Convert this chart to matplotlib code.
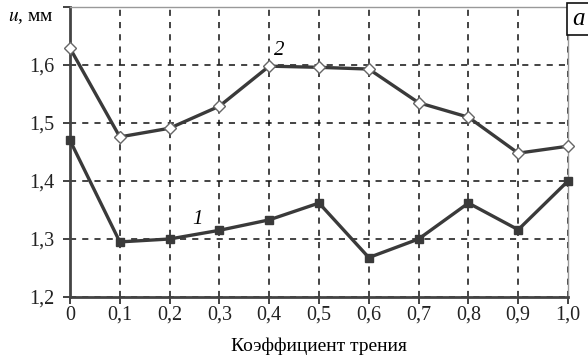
import matplotlib

matplotlib.use("Agg")
import matplotlib.pyplot as plt
from matplotlib.ticker import FuncFormatter

plt.rcParams["font.family"] = ["Liberation Serif", "DejaVu Serif"]
plt.rcParams["mathtext.fontset"] = "stix"

friction = [0.0, 0.1, 0.2, 0.3, 0.4, 0.5, 0.6, 0.7, 0.8, 0.9, 1.0]
u_curve1 = [1.470, 1.295, 1.300, 1.315, 1.333, 1.362, 1.268, 1.300, 1.362, 1.316, 1.400]
u_curve2 = [1.629, 1.476, 1.491, 1.529, 1.598, 1.596, 1.593, 1.535, 1.510, 1.448, 1.460]
y_ticks = [1.2, 1.3, 1.4, 1.5, 1.6, 1.7]


def comma(v, pos):
    if abs(v) < 1e-9:
        return "0"
    if abs(v - 1.7) < 1e-9:
        return ""
    return f"{v:.1f}".replace(".", ",")


fig = plt.figure(figsize=(5.88, 3.58), dpi=100)
ax = fig.add_axes([70 / 588, 1 - 297 / 358, 498 / 588, 290 / 358])

line_col = "#3a3a3a"
ax.plot(friction, u_curve1, color=line_col, lw=2.4, marker="s", ms=6,
        mfc=line_col, mec=line_col, zorder=3, clip_on=False)
ax.plot(friction, u_curve2, color=line_col, lw=2.4, marker="D", ms=6.5,
        mfc="white", mec="#666666", mew=1.0, zorder=3, clip_on=False)

ax.set_xlim(0, 1.0)
ax.set_ylim(1.2, 1.7)
ax.set_xticks(friction)
ax.set_yticks(y_ticks)
ax.xaxis.set_major_formatter(FuncFormatter(comma))
ax.yaxis.set_major_formatter(FuncFormatter(comma))
ax.tick_params(labelsize=14.5, direction="out", length=5, width=1.2, colors="#222222")
ax.tick_params(axis="y", pad=6)
ax.tick_params(axis="x", pad=1.5)

ax.grid(True, color="#111111", ls=(0, (4, 4)), lw=1.1)

for side in ["left", "bottom"]:
    ax.spines[side].set_color("#444444")
    ax.spines[side].set_linewidth(2.0)
ax.spines["right"].set_color("#999999")
ax.spines["right"].set_linewidth(1.0)
ax.spines["top"].set_color("#999999")
ax.spines["top"].set_linestyle((0, (1, 1)))
ax.spines["top"].set_linewidth(1.0)

ax.set_xlabel("Коэффициент трения", fontsize=14, labelpad=9)

fig.text(8 / 588, 1 - 18 / 358, "$u$, мм", fontsize=14, va="center", ha="left")
ax.text(0.41, 1.617, "2", fontsize=15, style="italic")
ax.text(0.245, 1.325, "1", fontsize=15, style="italic")

fig.text(572 / 588, 1 - 19 / 358, "а", fontsize=18, style="italic", va="center", ha="left",
         bbox=dict(boxstyle="square,pad=0.2", fc="white", ec="#111111", lw=1.2))

fig.savefig("out.png", dpi=100)
